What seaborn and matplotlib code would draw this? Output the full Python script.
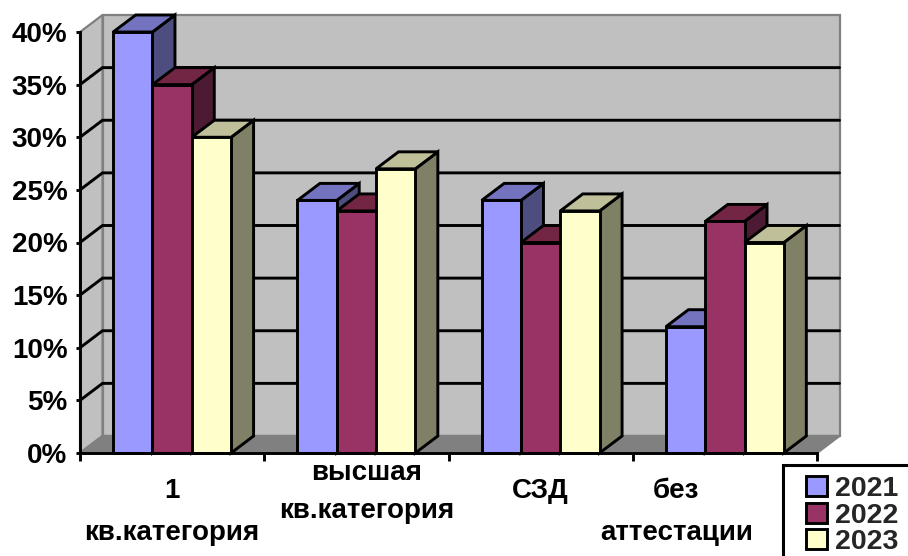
import numpy as np
import pandas as pd
import seaborn as sns
import matplotlib.pyplot as plt
from matplotlib.patches import Polygon, Rectangle
from matplotlib.ticker import PercentFormatter

categories = ["1\nкв.категория", "высшая\nкв.категория", "СЗД", "без\nаттестации"]
values_2021 = [0.40, 0.24, 0.24, 0.12]
values_2022 = [0.35, 0.23, 0.20, 0.22]
values_2023 = [0.30, 0.27, 0.23, 0.20]
years = ["2021", "2022", "2023"]
y_ticks = [0, 0.05, 0.10, 0.15, 0.20, 0.25, 0.30, 0.35, 0.40]

front_colors = ["#9999FF", "#993366", "#FFFFCC"]
side_colors = ["#4D4D80", "#4D1A33", "#808066"]
top_colors = ["#7373BF", "#732644", "#BFBF99"]

# label nudges in points: sideways shift, distance below the axis, line spacing
label_dx = [0, 7.5, 0, -35]
label_dy = [18, 5, 18, 18]
label_spacing = [1.8, 1.6, 1.8, 1.8]

W, H = 908, 556
sns.set_theme(style="white")
plt.rcParams["font.family"] = ["Liberation Sans", "DejaVu Sans"]

df = pd.DataFrame({
    "category": categories * 3,
    "year": np.repeat(years, 4),
    "value": values_2021 + values_2022 + values_2023,
})

fig = plt.figure(figsize=(W / 100, H / 100), dpi=100)
ax = fig.add_axes([80 / W, 1 - 453 / H, 737 / W, 421 / H])
ax.patch.set_visible(False)

sns.barplot(data=df, x="category", y="value", hue="year", hue_order=years,
            palette=front_colors, saturation=1, width=0.64, gap=0,
            edgecolor="black", linewidth=2.1, ax=ax, zorder=5)

ax.set_xlim(-0.5, 3.5)
ax.set_ylim(0, 0.40)
ax.set_xlabel("")
ax.set_ylabel("")

# depth of the fake 3d box, in data units
dx = 22.5 / (737 / 4)
dy = 17 / 421 * 0.40
x0, x1 = -0.5, 3.5
top = y_ticks[-1]

# back wall, side wall, floor
wall_kw = dict(edgecolor="#808080", linewidth=1.6, clip_on=False)
ax.add_patch(Polygon([(x0 + dx, dy), (x1 + dx, dy), (x1 + dx, top + dy), (x0 + dx, top + dy)],
                     facecolor="#C0C0C0", zorder=1, **wall_kw))
ax.add_patch(Polygon([(x0, 0), (x0 + dx, dy), (x0 + dx, top + dy), (x0, top)],
                     facecolor="#C0C0C0", zorder=1, **wall_kw))
ax.add_patch(Polygon([(x0, 0), (x1, 0), (x1 + dx, dy), (x0 + dx, dy)],
                     facecolor="#808080", zorder=1, **wall_kw))

# gridlines run along the side wall and then the back wall
for t in y_ticks[1:-1]:
    ax.plot([x0, x0 + dx, x1 + dx], [t, t + dy, t + dy], color="black", lw=2.1,
            clip_on=False, zorder=2, solid_joinstyle="miter")

# sides and tops of the bars, left to right so the later ones cover the earlier ones
bars = []
for container, side, roof in zip(ax.containers, side_colors, top_colors):
    for bar in container:
        bars.append((bar, side, roof))
bars.sort(key=lambda b: b[0].get_x())

for i, (bar, side, roof) in enumerate(bars):
    l, w, h = bar.get_x(), bar.get_width(), bar.get_height()
    z = 5 + i
    ax.add_patch(Polygon([(l + w, 0), (l + w + dx, dy), (l + w + dx, h + dy), (l + w, h)],
                         facecolor=side, edgecolor="black", linewidth=2.1, zorder=z,
                         clip_on=False))
    ax.add_patch(Polygon([(l, h), (l + dx, h + dy), (l + w + dx, h + dy), (l + w, h)],
                         facecolor=roof, edgecolor="black", linewidth=2.1, zorder=z,
                         clip_on=False))
    bar.set_zorder(z + 0.5)
    bar.set_clip_on(False)

for name in ["top", "right"]:
    ax.spines[name].set_visible(False)
for name in ["left", "bottom"]:
    ax.spines[name].set_linewidth(2.1)
    ax.spines[name].set_color("black")
    ax.spines[name].set_zorder(30)

ax.yaxis.set_major_formatter(PercentFormatter(1, decimals=0))
ax.set_yticks(y_ticks)
ax.tick_params(axis="y", left=True, length=3, width=2.1, color="black", pad=6,
               labelsize=20)
for lab in ax.get_yticklabels():
    lab.set_fontweight("bold")
    lab.set_color("black")

ax.set_xticks(np.arange(5) - 0.5)
ax.tick_params(axis="x", bottom=True, length=6, width=2.1, color="black", labelbottom=False)

for i, cat in enumerate(categories):
    ax.annotate(cat, xy=(i, 0), xytext=(label_dx[i], -label_dy[i]),
                textcoords="offset points", ha="center", va="top", fontsize=20,
                fontweight="bold", color="black", linespacing=label_spacing[i])

# legend box runs off the right and bottom of the picture
fig.add_artist(Rectangle((783 / W, -0.05), 0.2, 1 - 465 / H + 0.05, transform=fig.transFigure,
                         facecolor="white", edgecolor="black", linewidth=2.2))
handles = ax.get_legend_handles_labels()[0]
leg = fig.legend(handles, years, loc="upper left", bbox_to_anchor=(806 / W, 1 - 476 / H),
                 frameon=False, handlelength=0.74, handleheight=0.7,
                 handletextpad=0.28, labelspacing=0.02, borderpad=0, borderaxespad=0,
                 prop={"weight": "bold", "size": 20.5})
leg.set_zorder(40)
if ax.get_legend() is not None:
    ax.get_legend().remove()

fig.savefig("out.png", dpi=100)
